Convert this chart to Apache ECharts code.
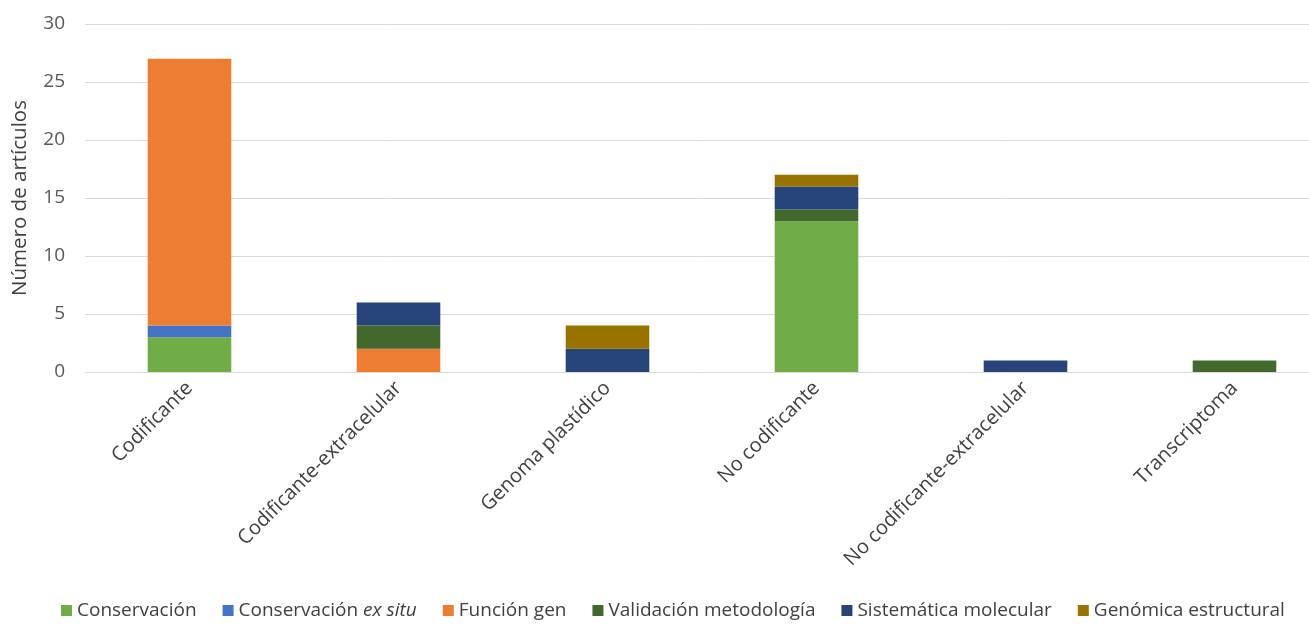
<!DOCTYPE html>
<html>
<head>
<meta charset="utf-8">
<script src="https://cdn.jsdelivr.net/npm/echarts@6/dist/echarts.min.js"></script>
<style>
html,body{margin:0;padding:0;background:#fff;}
#chart{width:1309px;height:625px;}
</style>
</head>
<body>
<div id="chart"></div>
<script>
// Categories of study (x axis)
const categories = ['Codificante', 'Codificante-extracelular', 'Genoma plastídico', 'No codificante', 'No codificante-extracelular', 'Transcriptoma'];

// Number of articles per topic, one array per stacked series
const conservacion       = [3, 0, 0, 13, 0, 0];
const conservacionExSitu = [1, 0, 0, 0, 0, 0];
const funcionGen         = [23, 2, 0, 0, 0, 0];
const validacionMetodo   = [0, 2, 0, 1, 0, 1];
const sistematicaMolec   = [0, 2, 2, 2, 1, 0];
const genomicaEstruct    = [0, 0, 2, 1, 0, 0];

const yTicks = [0, 5, 10, 15, 20, 25, 30];

const seriesDefs = [
  { name: 'Conservación', data: conservacion, color: '#70AD47' },
  { name: 'Conservación ex situ', data: conservacionExSitu, color: '#4472C4' },
  { name: 'Función gen', data: funcionGen, color: '#ED7D31' },
  { name: 'Validación metodología', data: validacionMetodo, color: '#43682B' },
  { name: 'Sistemática molecular', data: sistematicaMolec, color: '#264478' },
  { name: 'Genómica estructural', data: genomicaEstruct, color: '#997300' }
];

const chart = echarts.init(document.getElementById('chart'));
const axisFont = '"Open Sans", "Noto Sans", sans-serif';
const legendFont = '"Open Sans", "Noto Sans", sans-serif';

chart.setOption({
  animation: false,
  // the plot runs a little past the right edge of the canvas
  grid: { left: 85, width: 1254, top: 24, bottom: 253, containLabel: false, outerBoundsMode: 'none' },
  legend: {
    bottom: 0,
    left: 61,
    padding: [5, 0],
    itemWidth: 11,
    itemHeight: 11,
    itemGap: 26,
    icon: 'rect',
    textStyle: {
      fontFamily: legendFont, fontSize: 19, color: '#404040',
      rich: {
        n: { fontFamily: legendFont, fontSize: 19, color: '#404040' },
        i: { fontFamily: legendFont, fontSize: 19, color: '#404040', fontStyle: 'italic' }
      }
    },
    formatter: function (name) {
      if (name === 'Conservación ex situ') return '{n|Conservación }{i|ex situ}';
      return '{n|' + name + '}';
    },
    data: seriesDefs.map(s => s.name)
  },
  xAxis: {
    type: 'category',
    data: categories,
    axisLine: { lineStyle: { color: '#D9D9D9', width: 1 } },
    axisTick: { show: false },
    axisLabel: {
      rotate: 45, interval: 0, margin: 13,
      fontFamily: axisFont, fontSize: 20, color: '#404040'
    }
  },
  yAxis: {
    type: 'value',
    min: yTicks[0],
    max: yTicks[yTicks.length - 1],
    interval: yTicks[1] - yTicks[0],
    name: 'Número de artículos',
    nameLocation: 'middle',
    nameGap: 54,
    nameRotate: 90,
    nameTextStyle: { fontFamily: axisFont, fontSize: 20.5, color: '#404040' },
    axisLine: { show: false },
    axisTick: { show: false },
    splitLine: { lineStyle: { color: '#D9D9D9', width: 1 } },
    axisLabel: { margin: 20, fontFamily: axisFont, fontSize: 19, color: '#595959' }
  },
  series: seriesDefs.map(s => ({
    name: s.name,
    type: 'bar',
    stack: 'total',
    barWidth: '40%',
    data: s.data,
    itemStyle: { color: s.color }
  }))
});
</script>
</body>
</html>
